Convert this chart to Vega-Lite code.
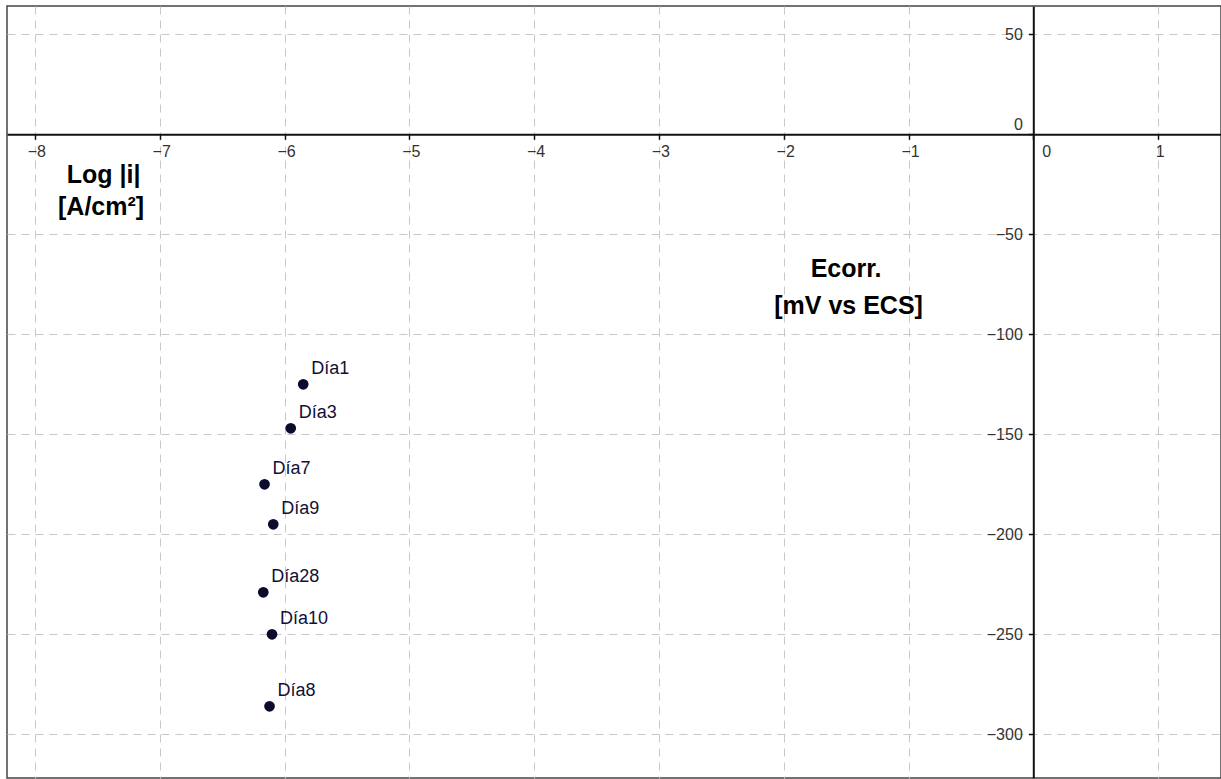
{
  "$schema": "https://vega.github.io/schema/vega-lite/v6.json",
  "width": 1214,
  "height": 772,
  "autosize": {"type": "none"},
  "padding": {"left": 7, "top": 6, "right": 0, "bottom": 1},
  "background": "white",
  "config": {"view": {"stroke": "#444444", "strokeWidth": 1.5}},
  "datasets": {
    "points": [
      {"label": "Día1", "x": -5.85, "y": -125},
      {"label": "Día3", "x": -5.95, "y": -147},
      {"label": "Día7", "x": -6.16, "y": -175},
      {"label": "Día9", "x": -6.09, "y": -195},
      {"label": "Día28", "x": -6.17, "y": -229},
      {"label": "Día10", "x": -6.10, "y": -250},
      {"label": "Día8", "x": -6.12, "y": -286}
    ],
    "notes": [
      {"label": "Log |i|", "x": -7.45, "y": -24.4},
      {"label": "[A/cm²]", "x": -7.47, "y": -40.3},
      {"label": "Ecorr.", "x": -1.50, "y": -71.4},
      {"label": "[mV vs ECS]", "x": -1.48, "y": -89.9}
    ]
  },
  "layer": [
    {
      "data": {"name": "points"},
      "mark": {"type": "circle", "size": 115, "color": "#0b0b2e", "opacity": 1},
      "encoding": {
        "x": {
          "field": "x", "type": "quantitative",
          "scale": {"domain": [-8.2236, 1.504], "nice": false, "zero": false},
          "axis": {
            "orient": "bottom", "offset": -643.7, "title": null, "format": "d",
            "values": [-8, -7, -6, -5, -4, -3, -2, -1, 0, 1],
            "grid": true, "gridDash": [8, 6], "gridColor": "#c8c8c8", "gridWidth": 1,
            "domainColor": "#111111", "domainWidth": 2,
            "tickColor": "#111111", "tickSize": 5, "tickWidth": 1.5,
            "labelFont": "Liberation Sans", "labelFontSize": 16, "labelColor": "#333333",
            "labelPadding": 4, "labelFlush": false, "labelOverlap": false, "labelBound": false,
            "labelOffset": {"expr": "datum.value == 0 ? 13 : 1.5"}
          }
        },
        "y": {
          "field": "y", "type": "quantitative",
          "scale": {"domain": [-321.85, 64.15], "nice": false, "zero": false},
          "axis": {
            "orient": "left", "offset": -1026.3, "title": null, "format": "d",
            "values": [-300, -250, -200, -150, -100, -50, 0, 50],
            "grid": true, "gridDash": [8, 6], "gridColor": "#c8c8c8", "gridWidth": 1,
            "domainColor": "#111111", "domainWidth": 2,
            "tickColor": "#111111", "tickSize": 5, "tickWidth": 1.5,
            "labelFont": "Liberation Sans", "labelFontSize": 16, "labelColor": "#333333",
            "labelPadding": 6, "labelFlush": false, "labelOverlap": false, "labelBound": false,
            "labelOffset": {"expr": "datum.value == 0 ? -10 : 0"}
          }
        }
      }
    },
    {
      "data": {"name": "points"},
      "mark": {"type": "text", "align": "left", "baseline": "alphabetic", "dx": 8, "dy": -10, "fontSize": 18, "font": "Liberation Sans", "color": "#101038"},
      "encoding": {
        "x": {"field": "x", "type": "quantitative"},
        "y": {"field": "y", "type": "quantitative"},
        "text": {"field": "label"}
      }
    },
    {
      "data": {"name": "notes"},
      "mark": {"type": "text", "align": "center", "baseline": "alphabetic", "fontSize": 25, "fontWeight": "bold", "font": "Liberation Sans", "color": "#000000"},
      "encoding": {
        "x": {"field": "x", "type": "quantitative"},
        "y": {"field": "y", "type": "quantitative"},
        "text": {"field": "label"}
      }
    }
  ]
}
